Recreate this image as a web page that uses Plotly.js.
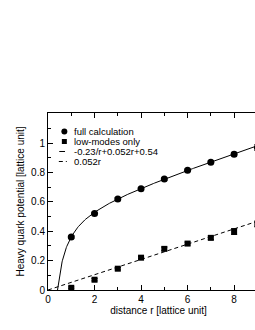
<!DOCTYPE html>
<html><head><meta charset="utf-8">
<script src="https://cdn.plot.ly/plotly-3.0.1.min.js"></script>
<style>html,body{margin:0;padding:0;overflow:hidden;background:#fff;width:255px;height:330px}#c{width:290px;height:330px}</style>
</head><body><div id="c"></div>
<script>
// Data
const rFull = [1, 2, 3, 4, 5, 6, 7, 8, 9];
const vFull = [0.36, 0.52, 0.62, 0.69, 0.755, 0.815, 0.87, 0.925, 0.97];
const eFull = [0.008, 0.008, 0.008, 0.008, 0.008, 0.008, 0.008, 0.012, 0.02];
const rLow = [1, 2, 3, 4, 5, 6, 7, 8, 9];
const vLow = [0.015, 0.07, 0.145, 0.22, 0.28, 0.316, 0.355, 0.398, 0.45];
const eLow = [0.006, 0.008, 0.008, 0.008, 0.012, 0.01, 0.012, 0.02, 0.02];
// Fit parameters stated in the legend: a/r + b*r + c, and slope-only line
const fitA = -0.23, fitB = 0.052, fitC = 0.54;
const slope = 0.052;
const names = ["full calculation", "low-modes only", "-0.23/r+0.052r+0.54", "0.052r"];
const yTicks = [0, 0.2, 0.4, 0.6, 0.8, 1];
const yTickText = ["0", "0.2", "0.4", "0.6", "0.8", "1"];

const r0 = (-fitC + Math.sqrt(fitC*fitC - 4*fitB*fitA)) / (2*fitB);
const fx = [], fy = [];
for (let i = 0; i <= 300; i++) {
  const r = r0 + (9.6 - r0) * Math.pow(i/300, 1.6);
  fx.push(r); fy.push(fitA/r + fitB*r + fitC);
}
const lx = [0, 9.6], ly = lx.map(r => slope*r);

const font = {family: "Liberation Sans, Arial, sans-serif", size: 10, color: "#000"};
const legFont = {family: font.family, size: 9.5, color: "#000"};
const traces = [
  {x: rFull, y: vFull, error_y: {type: 'data', array: eFull, color: '#000', thickness: 1, width: 3},
   mode: 'markers', type: 'scatter', name: names[0], marker: {symbol: 'circle', size: 7, color: '#000'}},
  {x: rLow, y: vLow, error_y: {type: 'data', array: eLow, color: '#000', thickness: 1, width: 3},
   mode: 'markers', type: 'scatter', name: names[1], marker: {symbol: 'square', size: 6, color: '#000'}},
  {x: fx, y: fy, mode: 'lines', type: 'scatter', name: names[2], line: {color: '#000', width: 1}},
  {x: lx, y: ly, mode: 'lines', type: 'scatter', name: names[3], line: {color: '#000', width: 1, dash: '4px,3px'}}
];

// custom compact legend (paper coordinates)
const legX = 0.074, legTextX = 0.115;
const legY = [0.8955, 0.839, 0.7825, 0.726];
const shapes = [
  {type: 'circle', xref: 'paper', yref: 'paper', xsizemode: 'pixel', ysizemode: 'pixel',
   xanchor: legX, yanchor: legY[0], x0: -3, x1: 3, y0: -3, y1: 3, fillcolor: '#000', line: {width: 0}},
  {type: 'rect', xref: 'paper', yref: 'paper', xsizemode: 'pixel', ysizemode: 'pixel',
   xanchor: legX, yanchor: legY[1], x0: -2.5, x1: 2.5, y0: -2.5, y1: 2.5, fillcolor: '#000', line: {width: 0}},
  {type: 'line', xref: 'paper', yref: 'paper', x0: 0.051, x1: 0.077, y0: legY[2], y1: legY[2], line: {color: '#000', width: 1}},
  {type: 'line', xref: 'paper', yref: 'paper', x0: 0.049, x1: 0.085, y0: legY[3], y1: legY[3], line: {color: '#000', width: 1, dash: '4px,3px'}}
];
const annotations = names.map((t, i) => ({
  text: t, xref: 'paper', yref: 'paper', x: legTextX, y: legY[i], xanchor: 'left', yanchor: 'middle',
  showarrow: false, font: legFont, borderpad: 0
}));

const axisCommon = {showgrid: false, zeroline: false, showline: true, linecolor: '#000', linewidth: 1,
  mirror: 'ticks', ticks: 'inside', ticklen: 5, tickcolor: '#000', tickfont: font};
const layout = {
  width: 290, height: 330,
  margin: {l: 48, r: 21, t: 113, b: 40},
  paper_bgcolor: '#fff', plot_bgcolor: '#fff',
  font: font,
  showlegend: false,
  shapes: shapes,
  annotations: annotations,
  xaxis: Object.assign({}, axisCommon, {range: [0, 9.5], dtick: 2, tick0: 0,
    minor: {dtick: 1, ticks: 'inside', ticklen: 3, tickcolor: '#000'},
    title: {text: 'distance r [lattice unit]', font: font, standoff: 0}}),
  yaxis: Object.assign({}, axisCommon, {range: [0, 1.205], tickmode: 'array', tickvals: yTicks, ticktext: yTickText,
    minor: {tickmode: 'linear', tick0: 0, dtick: 0.1, ticks: 'inside', ticklen: 3, tickcolor: '#000'},
    title: {text: 'Heavy quark potential [lattice unit]', font: font, standoff: 4}})
};
Plotly.newPlot('c', traces, layout, {staticPlot: true});
</script></body></html>
